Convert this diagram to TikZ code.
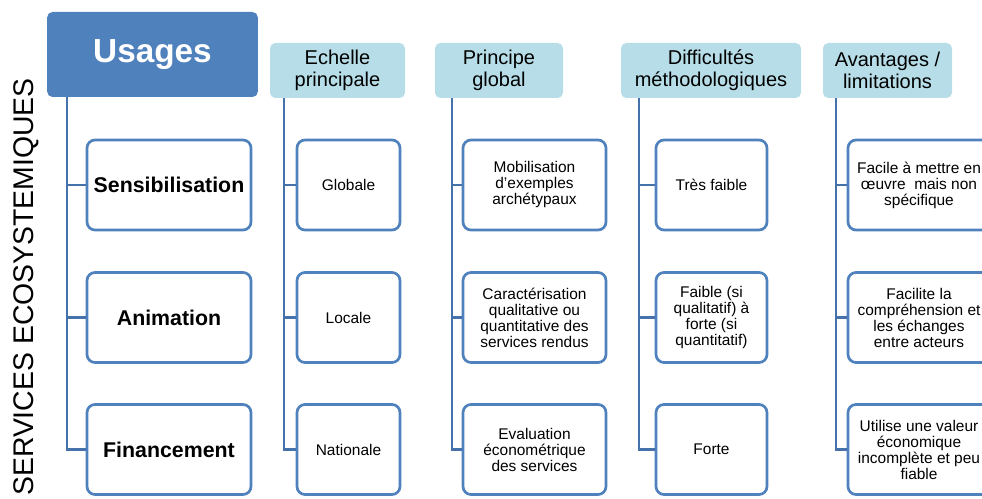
\documentclass[tikz,border=0pt]{standalone}
\usepackage{fontspec}
\setmainfont{Liberation Sans}
\definecolor{usageblue}{HTML}{4F81BD}
\definecolor{headblue}{HTML}{B7DEE8}
\definecolor{boxblue}{HTML}{4F81BD}
\definecolor{lineblue}{HTML}{4672AC}

\begin{document}
\begin{tikzpicture}[x=0.75pt,y=-0.75pt]
          \tikzset{usage node/.style={fill=usageblue,rounded corners=4pt,minimum width=158pt,minimum height=63.75pt,text=white,font=\fontsize{25}{30}\selectfont\bfseries},
                   head node/.style={fill=headblue,rounded corners=4pt,minimum height=41.25pt,align=center,inner sep=0pt,font=\fontsize{15}{16.5}\selectfont},
                   leaf node/.style={draw=boxblue,line width=2pt,fill=white,rounded corners=6pt,minimum height=67.5pt,align=center,inner sep=0pt,font=\fontsize{11.6}{12}\selectfont},
                   usage leaf/.style={leaf node,minimum width=123pt,font=\fontsize{16}{19}\selectfont\bfseries},
                   branch/.style={draw=lineblue,line width=2.2pt}}
          \useasboundingbox (0,0) rectangle (982,499);
          \clip (0,0) rectangle (982,499);
          \node[rotate=90,anchor=base,font=\fontsize{21.3}{24}\selectfont] (side) at (33,287) {SERVICES ECOSYSTEMIQUES};
          % usages
          \node[usage node] (u0) at (152.5,54.5) {Usages};
          \node[usage leaf] (u1) at (169,185) {Sensibilisation};
          \node[usage leaf] (u2) at (169,317.5) {Animation};
          \node[usage leaf] (u3) at (169,449.5) {Financement};
          % echelle
          \node[head node,minimum width=101.25pt] (e0) at (337.5,70.5) {Echelle\\principale};
          \node[leaf node,minimum width=77.25pt] (e1) at (348.5,185) {Globale};
          \node[leaf node,minimum width=77.25pt] (e2) at (348.5,317.5) {Locale};
          \node[leaf node,minimum width=77.25pt] (e3) at (348.5,449.5) {Nationale};
          % principe
          \node[head node,minimum width=96pt] (p0) at (499,70.5) {Principe\\global};
          \node[leaf node,minimum width=107.25pt] (p1) at (534.5,185) {Mobilisation\\d'exemples\\archétypaux};
          \node[leaf node,minimum width=107.25pt] (p2) at (534.5,317.5) {Caractérisation\\qualitative ou\\quantitative des\\services rendus};
          \node[leaf node,minimum width=107.25pt] (p3) at (534.5,449.5) {Evaluation\\économétrique\\des services};
          % difficultes
          \node[head node,minimum width=135pt] (d0) at (711,70.5) {Difficultés\\méthodologiques};
          \node[leaf node,minimum width=83.25pt] (d1) at (711.5,185) {Très faible};
          \node[leaf node,minimum width=83.25pt] (d2) at (711.5,317.5) {Faible (si\\qualitatif) à\\forte (si\\quantitatif)};
          \node[leaf node,minimum width=83.25pt] (d3) at (711.5,449.5) {Forte};
          % avantages
          \node[head node,minimum width=96.75pt] (a0) at (887.5,70.5) {Avantages /\\limitations};
          \node[leaf node,minimum width=106.5pt] (a1) at (919,185) {Facile à mettre en\\œuvre\ \ mais non\\spécifique};
          \node[leaf node,minimum width=106.5pt] (a2) at (919,317.5) {Facilite la\\compréhension et\\les échanges\\entre acteurs};
          \node[leaf node,minimum width=106.5pt] (a3) at (919,449.5) {Utilise une valeur\\économique\\incomplète et peu\\fiable};
          \coordinate (t0) at (67,97);
          \coordinate (t1) at (284,98);
          \coordinate (t2) at (452,98);
          \coordinate (t3) at (639,98);
          \coordinate (t4) at (836,98);
          \draw[branch] (t0) |- (u1.west); \draw[branch] (t0) |- (u2.west); \draw[branch] (t0) |- (u3.west);
          \draw[branch] (t1) |- (e1.west); \draw[branch] (t1) |- (e2.west); \draw[branch] (t1) |- (e3.west);
          \draw[branch] (t2) |- (p1.west); \draw[branch] (t2) |- (p2.west); \draw[branch] (t2) |- (p3.west);
          \draw[branch] (t3) |- (d1.west); \draw[branch] (t3) |- (d2.west); \draw[branch] (t3) |- (d3.west);
          \draw[branch] (t4) |- (a1.west); \draw[branch] (t4) |- (a2.west); \draw[branch] (t4) |- (a3.west);
        \end{tikzpicture}
\end{document}
